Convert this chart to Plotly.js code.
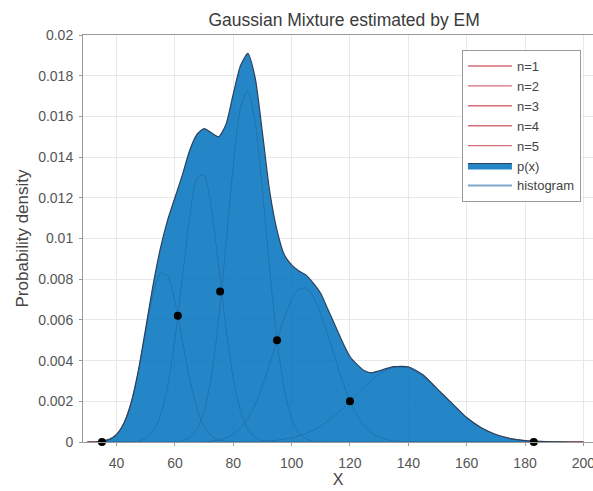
<!DOCTYPE html>
<html>
<head>
<meta charset="utf-8">
<script src="https://cdn.plot.ly/plotly-3.0.1.min.js"></script>
<style>
  html, body { margin: 0; padding: 0; background: #ffffff; }
  #chart { width: 593px; height: 491px; }
</style>
</head>
<body>
<div id="chart"></div>
<script>
// ---- Data ----
// Mixture density p(x)
var pxX = [30, 32.5, 35, 37.5, 40, 42.5, 45, 47.5, 50, 52.5, 55, 57.5, 60, 62.5, 65, 67.5, 70, 72.5, 75, 77.5, 80, 82.5, 85, 87.5, 90, 92.5, 95, 97.5, 100, 102.5, 105, 107.5, 110, 112.5, 115, 117.5, 120, 122.5, 125, 127.5, 130, 135, 140, 145, 150, 155, 160, 165, 170, 175, 180, 185, 190, 195, 200];
var pxY = [0, 0, 0.00004, 0.00013, 0.00037, 0.00092, 0.00193, 0.00353, 0.0056, 0.0077, 0.0095, 0.0109, 0.0120, 0.0131, 0.0143, 0.0151, 0.0154, 0.0152, 0.0150, 0.0156, 0.0171, 0.0185, 0.0191, 0.0179, 0.0152, 0.0123, 0.0104, 0.0092, 0.0087, 0.0084, 0.0082, 0.0078, 0.0073, 0.0065, 0.0057, 0.0049, 0.0042, 0.0038, 0.0035, 0.0034, 0.0035, 0.0037, 0.0037, 0.0033, 0.0026, 0.0019, 0.0012, 0.0007, 0.00037, 0.00017, 0.00007, 0.00003, 0.00001, 0, 0];

// Components n=1..n=5
var c1X = [30, 35, 37.5, 40, 42.5, 45, 47.5, 50, 52.5, 55, 57.5, 60, 62.5, 65, 67.5, 70, 72.5, 75, 77.5, 80, 85, 200];
var c1Y = [0, 0.00004, 0.00013, 0.00037, 0.00091, 0.00192, 0.00348, 0.00542, 0.00723, 0.0083, 0.00817, 0.00691, 0.00502, 0.00313, 0.00167, 0.00077, 0.0003, 0.0001, 0.00003, 0.00001, 0, 0];

var c2X = [30, 42.5, 45, 47.5, 50, 52.5, 55, 57.5, 60, 62.5, 65, 67.5, 70, 72.5, 75, 77.5, 80, 82.5, 85, 87.5, 90, 92.5, 95, 200];
var c2Y = [0, 0, 0.00001, 0.00005, 0.00018, 0.00051, 0.00127, 0.00273, 0.00504, 0.00802, 0.01098, 0.01295, 0.01314, 0.01149, 0.00864, 0.0056, 0.00312, 0.0015, 0.00062, 0.00022, 0.00007, 0.00002, 0, 0];

var c3X = [30, 60, 62.5, 65, 67.5, 70, 72.5, 75, 77.5, 80, 82.5, 85, 87.5, 90, 92.5, 95, 97.5, 100, 102.5, 105, 107.5, 110, 200];
var c3Y = [0, 0, 0.00006, 0.00021, 0.0006, 0.0015, 0.00322, 0.00601, 0.0097, 0.01357, 0.01645, 0.01727, 0.01571, 0.01238, 0.00845, 0.005, 0.00256, 0.00114, 0.00044, 0.00015, 0.00004, 0, 0];

var c4X = [30, 70, 75, 77.5, 80, 82.5, 85, 87.5, 90, 92.5, 95, 97.5, 100, 102.5, 105, 107.5, 110, 112.5, 115, 117.5, 120, 122.5, 125, 127.5, 130, 135, 140, 145, 200];
var c4Y = [0, 0, 0.0001, 0.0002, 0.00039, 0.00069, 0.00117, 0.00185, 0.00275, 0.00383, 0.00499, 0.00611, 0.007, 0.00751, 0.00756, 0.00713, 0.00631, 0.00523, 0.00406, 0.00296, 0.00202, 0.00129, 0.00077, 0.00044, 0.00023, 0.00005, 0.00001, 0, 0];

var c5X = [30, 85, 90, 95, 100, 105, 110, 115, 120, 125, 130, 135, 140, 145, 150, 155, 160, 165, 170, 175, 180, 185, 190, 195, 200];
var c5Y = [0, 0, 0.00003, 0.00009, 0.0002, 0.00042, 0.00078, 0.00132, 0.002, 0.00272, 0.00333, 0.00367, 0.00363, 0.00323, 0.00258, 0.00186, 0.0012, 0.0007, 0.00037, 0.00017, 0.00007, 0.00003, 0.00001, 0, 0];

// Black points (range ends and component crossings)
var dotX = [35, 61, 75.5, 95, 120, 183];
var dotY = [0, 0.0062, 0.0074, 0.0050, 0.0020, 0];

var compNames = ['n=1', 'n=2', 'n=3', 'n=4', 'n=5'];
var xTicks = [40, 60, 80, 100, 120, 140, 160, 180, 200];

// ---- Traces ----
var compColor = 'rgb(214,110,118)';
var compX = [c1X, c2X, c3X, c4X, c5X];
var compY = [c1Y, c2Y, c3Y, c4Y, c5Y];
var traces = [];
// component curves (drawn under the mixture fill)
for (var i = 0; i < 5; i++) {
  traces.push({
    x: compX[i], y: compY[i], name: compNames[i], showlegend: false,
    type: 'scatter', mode: 'lines',
    line: { color: compColor, width: 1, shape: 'spline', smoothing: 0.6 },
    hoverinfo: 'skip'
  });
}
// legend entries for the components
for (var j = 0; j < 5; j++) {
  traces.push({
    x: [null], y: [null], name: compNames[j], type: 'scatter', mode: 'lines',
    line: { color: compColor, width: 1.4 }
  });
}
traces.push({
  x: pxX, y: pxY, name: 'p(x)', type: 'scatter', mode: 'lines',
  fill: 'tozeroy', fillcolor: 'rgba(0,114,189,0.86)',
  line: { color: 'rgb(44,66,92)', width: 1.2, shape: 'spline', smoothing: 0.6 },
  hoverinfo: 'skip'
});
traces.push({
  x: [null], y: [null], name: 'histogram', type: 'scatter', mode: 'lines',
  line: { color: 'rgb(125,168,206)', width: 2 }
});
traces.push({
  x: dotX, y: dotY, type: 'scatter', mode: 'markers', showlegend: false,
  marker: { color: '#000000', size: 8 }, cliponaxis: false, hoverinfo: 'skip'
});

var fam = 'Arial, "Liberation Sans", sans-serif';
var axisFont = { family: fam, size: 14, color: '#555555' };

var layout = {
  width: 593, height: 491,
  margin: { l: 83, r: 0, t: 35, b: 49 },
  paper_bgcolor: '#ffffff', plot_bgcolor: '#ffffff',
  font: { family: fam, color: '#444444' },
  title: {
    text: 'Gaussian Mixture estimated by EM',
    font: { family: fam, size: 17.5, color: '#3a3a3a' },
    x: 0.512, xref: 'paper', xanchor: 'center',
    y: 0.959, yref: 'container', yanchor: 'middle'
  },
  xaxis: {
    range: [28.5, 203.3],
    tickvals: xTicks,
    ticktext: xTicks.map(String),
    ticklabeloverflow: 'allow',
    showgrid: true, gridcolor: '#e8e8e8', gridwidth: 1,
    zeroline: false,
    showline: true, linecolor: '#9a9a9a', linewidth: 1, mirror: true,
    ticks: 'outside', ticklen: 3, tickcolor: '#9a9a9a',
    ticklabelstandoff: 5,
    tickfont: axisFont,
    title: { text: 'X', font: { family: fam, size: 16, color: '#444444' }, standoff: 3 }
  },
  yaxis: {
    range: [0, 0.02],
    tick0: 0, dtick: 0.002,
    showgrid: true, gridcolor: '#e8e8e8', gridwidth: 1,
    zeroline: false,
    showline: true, linecolor: '#9a9a9a', linewidth: 1, mirror: true,
    ticks: 'outside', ticklen: 3, tickcolor: '#9a9a9a',
    ticklabelstandoff: 3,
    tickfont: axisFont,
    title: { text: 'Probability density', font: { family: fam, size: 17, color: '#444444' }, standoff: 5 }
  },
  legend: {
    x: 0.743, xanchor: 'left', y: 0.963, yanchor: 'top',
    bgcolor: '#ffffff', bordercolor: '#9a9a9a', borderwidth: 1,
    font: { family: fam, size: 13, color: '#444444' },
    tracegroupgap: 0, itemwidth: 44
  },
  showlegend: true
};

Plotly.newPlot('chart', traces, layout, { displayModeBar: false, staticPlot: true });
</script>
</body>
</html>
